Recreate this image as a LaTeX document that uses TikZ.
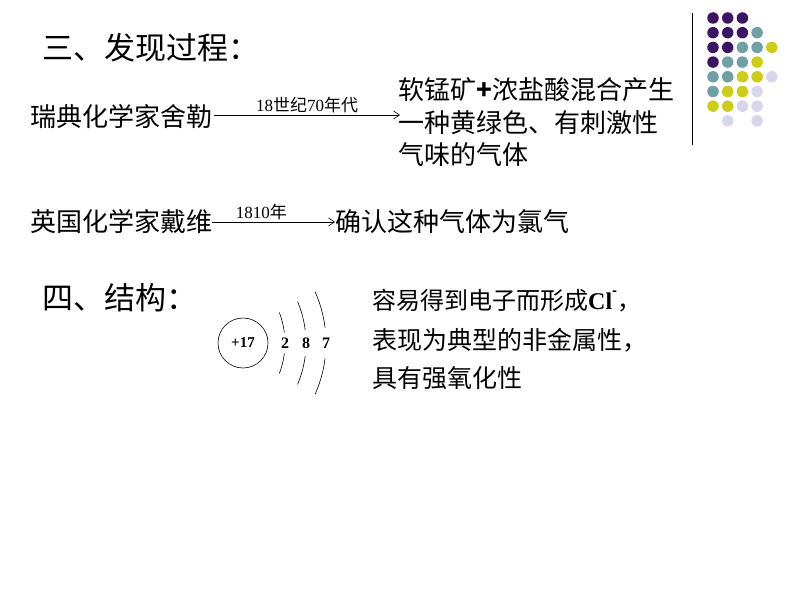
\documentclass[tikz,border=0pt]{standalone}
\usepackage{fontspec}
\setmainfont{Liberation Serif}
\newfontfamily\cjk{Noto Sans CJK SC}
\usetikzlibrary{calc,arrows.meta}
\begin{document}
\begin{tikzpicture}[x=1pt,y=-1pt,
  txt/.style={anchor=west,inner sep=0pt,font=\cjk\fontsize{#1}{#1}\selectfont},
  lbl/.style={anchor=south,inner sep=1pt,font=\cjk\fontsize{17}{17}\selectfont},
  arr/.style={-{Straight Barb[length=6pt,width=8pt]},line width=0.6pt},
  dot/.style={circle,fill=#1,minimum size=11.5pt,inner sep=0pt}]
\useasboundingbox (0,0) rectangle (794,596);
\definecolor{cP}{RGB}{60,20,100}
\definecolor{cT}{RGB}{110,160,165}
\definecolor{cY}{RGB}{205,205,25}
\definecolor{cL}{RGB}{215,215,235}
\definecolor{cN}{RGB}{255,255,255}
% decoration
\draw[line width=0.8pt] (692,13) -- (692,145);
\foreach \r/\row in {0/{P,P,P,N,N},1/{P,P,P,T,N},2/{P,P,T,T,Y},3/{P,T,T,Y,N},4/{T,T,Y,Y,L},5/{T,Y,Y,L,N},6/{Y,Y,L,L,N},7/{N,L,N,L,N}}{
  \foreach \c [count=\i from 0] in \row {
    \node[dot=c\c] (d\r\i) at (713+14.7*\i,18+14.7*\r) {};
  }}
% section 3
\node[txt=31] (t3) at (42,48) {三、发现过程：};
\node[txt=26] (a1) at (30,117) {瑞典化学家舍勒};
\node[txt=26] (b1) at (398,90) {软锰矿\textbf{+}浓盐酸混合产生};
\node[txt=26] (b2) at (398,123) {一种黄绿色、有刺激性};
\node[txt=26] (b3) at (398,155) {气味的气体};
\coordinate (e1) at (400,115);
\draw[arr] (a1.east) ++(2,-2) coordinate (s1) -- (s1 -| e1) node[midway,lbl,yshift=1pt] {{\rmfamily 18}世纪{\rmfamily 70}年代};
\node[txt=26] (a2) at (30,222) {英国化学家戴维};
\node[txt=26] (c1) at (335,222) {确认这种气体为氯气};
\draw[arr] (a2.east) -- (c1.west) node[pos=0.4,lbl,yshift=1pt] {{\rmfamily 1810}年};
% section 4
\node[txt=31] (t4) at (42,298) {四、结构：};
\node[txt=24] (r1) at (372,301) {容易得到电子而形成{\rmfamily\bfseries Cl}\raisebox{1.1ex}{\fontsize{13}{13}\selectfont\textbf{-}}，};
\node[txt=25] (r2) at (372,340) {表现为典型的非金属性，};
\node[txt=25] (r3) at (372,378) {具有强氧化性};
% atom
\node[circle,draw,line width=0.6pt,minimum size=50pt,inner sep=0pt,font=\bfseries\fontsize{15}{15}\selectfont] (nuc) at (243,343) {+17};
\coordinate (o) at (200,343);
\foreach \rr/\n/\a in {85/2/21,106/8/23,126/7/24}{
  \draw[line width=0.6pt] (o) ++(\a:\rr) arc (\a:7:\rr);
  \draw[line width=0.6pt] (o) ++(-7:\rr) arc (-7:-\a:\rr);
  \node[font=\bfseries\fontsize{16}{16}\selectfont] (n\n) at ($(o)+(\rr,0)$) {\n};
}
\end{tikzpicture}
\end{document}
